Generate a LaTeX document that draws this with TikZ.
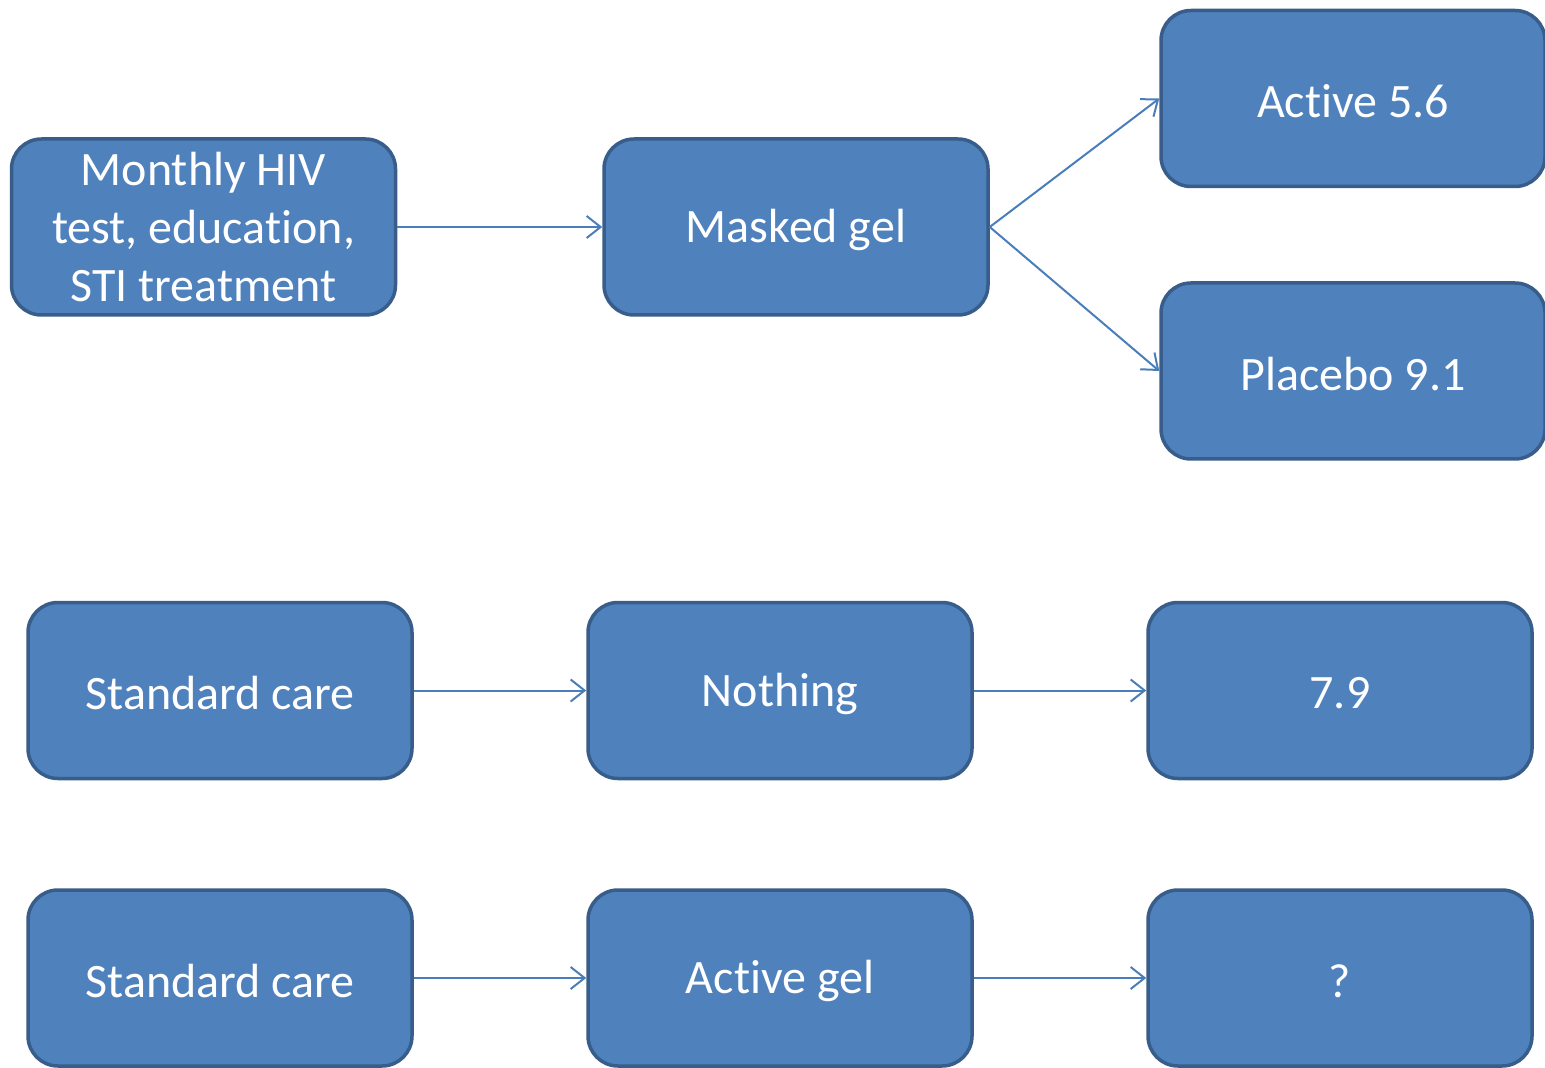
\documentclass[tikz,border=0pt]{standalone}
\usepackage{fontspec}
\setmainfont[Ligatures={CommonOff}]{Carlito}
\usetikzlibrary{arrows.meta}
\definecolor{boxfill}{HTML}{4F81BD}
\definecolor{boxline}{HTML}{385D8A}
\definecolor{arrcol}{HTML}{4A7EBB}
\newcommand{\lowtxt}[1]{\raisebox{-1.5pt}[\height][\depth]{#1}}
\begin{document}
\begin{tikzpicture}[x=0.5pt,y=-0.5pt,
  box/.style={draw=boxline, fill=boxfill, line width=1.75pt, rounded corners=15pt,
    text=white, font=\fontsize{24}{29}\selectfont, align=center, inner sep=0pt,
    minimum width=192pt, minimum height=88pt},
  conn/.style={draw=arrcol, line width=1pt, -{Straight Barb[length=7pt,width=11pt,line width=1pt]}}]
\useasboundingbox (0,0) rectangle (1545,1068);
\node[box] (mon) at (203.5,227) {Monthly HIV\\test, educat\kern0pt ion,\\STI treatment};
\node[box] (mg) at (796,227) {\lowtxt{Masked gel}};
\node[box] (act) at (1353,98.5) {\lowtxt{Act\kern0pt ive 5.6}};
\node[box] (pla) at (1353,371) {\lowtxt{Placebo 9.1}};
\node[box] (sc1) at (220,690.5) {\lowtxt{Standard care}};
\node[box] (no) at (780,690.5) {\lowtxt{Nothing}};
\node[box] (r79) at (1340,690.5) {\lowtxt{7.9}};
\node[box] (sc2) at (220,978) {\lowtxt{Standard care}};
\node[box] (ag) at (780,978) {\lowtxt{Act\kern0pt ive gel}};
\node[box] (q) at (1340,978) {\lowtxt{?}};
\draw[conn] (mon.east) -- (mg.west);
\draw[conn] (mg.east) -- (act.west);
\draw[conn] (mg.east) -- (pla.west);
\draw[conn] (sc1.east) -- (no.west);
\draw[conn] (no.east) -- (r79.west);
\draw[conn] (sc2.east) -- (ag.west);
\draw[conn] (ag.east) -- (q.west);
\end{tikzpicture}
\end{document}
